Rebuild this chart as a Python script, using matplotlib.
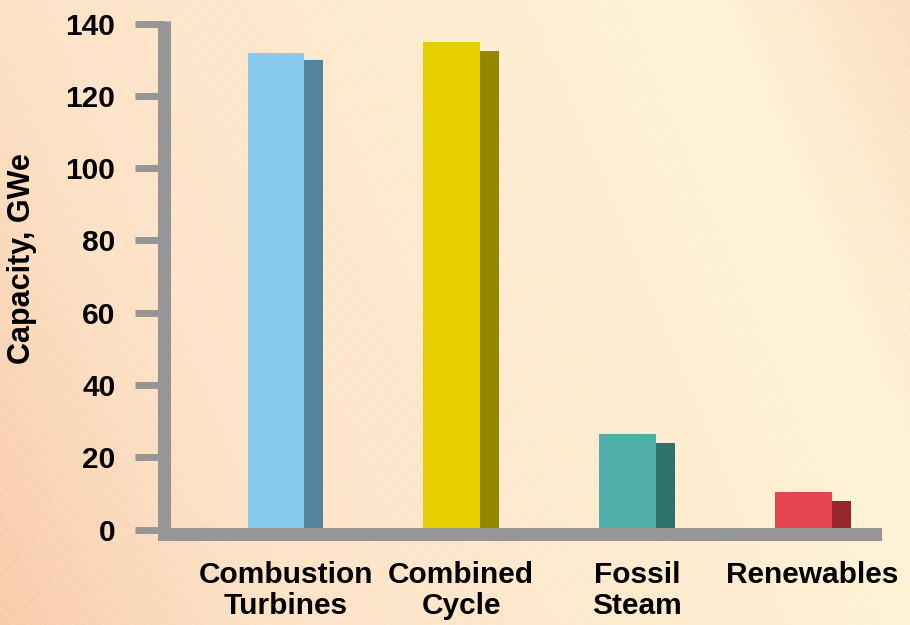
import numpy as np
import matplotlib
matplotlib.use("Agg")
import matplotlib.pyplot as plt
from matplotlib.colors import LinearSegmentedColormap

categories = ["Combustion\nTurbines", "Combined\nCycle", "Fossil\nSteam", "Renewables"]
front_vals = [132.0, 135.0, 26.5, 10.3]
back_vals = [130.0, 132.5, 24.0, 8.0]
front_colors = ["#87c9ef", "#e6cf00", "#50afab", "#e5454f"]
back_colors = ["#55839e", "#948700", "#2f716b", "#95262f"]
yticks = [0, 20, 40, 60, 80, 100, 120, 140]

gray = "#969696"
plt.rcParams['font.family'] = ['Liberation Sans', 'DejaVu Sans']
plt.rcParams['font.weight'] = 'bold'

fig = plt.figure(figsize=(9.1, 6.25), dpi=100)

# background gradient + faint diagonal lines
bg = fig.add_axes([0, 0, 1, 1], zorder=-10)
xx, yy = np.meshgrid(np.arange(910), np.arange(625))
s = (600 * xx - 250 * yy) / 546000.0
s = (s + 0.29) / 1.29
cmap = LinearSegmentedColormap.from_list("bg", [
    (0.0, (248/255, 204/255, 170/255)),
    (0.29/1.29, (253/255, 226/255, 198/255)),
    (1.07/1.29, (255/255, 243/255, 214/255)),
    (1.0, (252/255, 222/255, 192/255)),
])
bg.imshow(s, cmap=cmap, vmin=0, vmax=1, aspect='auto', extent=[0, 910, 625, 0])
for x0 in range(-900, 910, 15):
    bg.plot([x0, x0 + 625 / 1.35], [0, 625], color="white", lw=0.6, alpha=0.25)
bg.set_xlim(0, 910)
bg.set_ylim(625, 0)
bg.axis("off")

ax = fig.add_axes([164/910, 1 - 533.5/625, 710.5/910, 512.5/625])
ax.set_facecolor("none")

x = np.arange(len(categories))
w_front = 0.324
w_back = 0.108
ax.bar(x - 0.054, front_vals, width=w_front, color=front_colors, zorder=1)
ax.bar(x + 0.162, back_vals, width=w_back, color=back_colors, zorder=1)

ax.set_xlim(-0.6915, 3.352)
ax.set_ylim(-1.1, 140.75)

for side in ["top", "right"]:
    ax.spines[side].set_visible(False)
for side in ["left", "bottom"]:
    ax.spines[side].set_color(gray)
    ax.spines[side].set_linewidth(9.4)
ax.spines["left"].set_capstyle("butt")
ax.spines["bottom"].set_capstyle("projecting")

ax.set_yticks(yticks)
ax.set_yticklabels([str(v) for v in yticks], fontsize=21.5, fontweight="bold")
ax.tick_params(axis="y", length=21, width=5, color=gray, pad=14)

ax.set_xticks(x)
ax.set_xticklabels(categories, fontsize=21.5, fontweight="bold", linespacing=1.12)
ax.tick_params(axis="x", length=0, pad=20)

fig.text(22/910, 1 - 259/625, "Capacity, GWe", rotation=90, ha="center", va="center",
         fontsize=22, fontweight="bold")

fig.savefig("out.png", dpi=100)
